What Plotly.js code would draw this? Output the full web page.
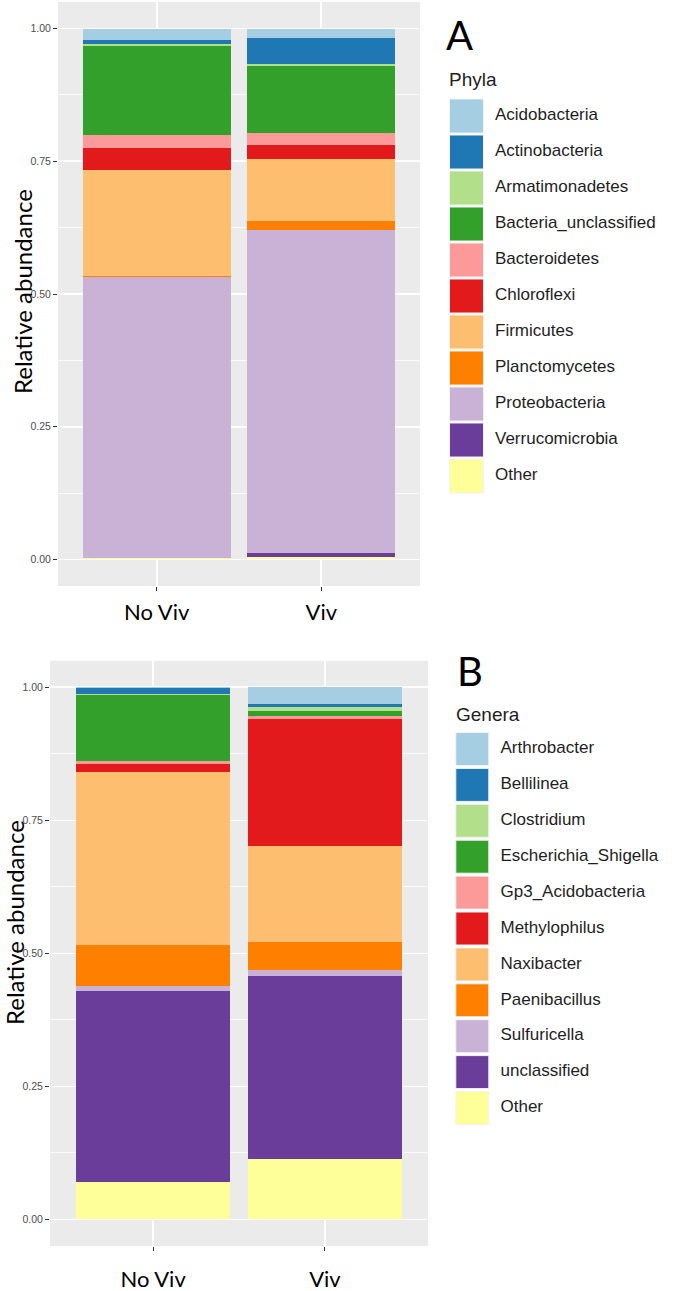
<!DOCTYPE html>
<html>
<head>
<meta charset="utf-8">
<script src="https://cdn.plot.ly/plotly-3.0.1.min.js"></script>
<style>html,body{margin:0;padding:0;background:#fff;}#chart{width:685px;height:1291px;}</style>
</head>
<body>
<div id="chart"></div>
<script>
// ---------- DATA ----------
const samples = ["No Viv", "Viv"];

const phyla = ["Acidobacteria", "Actinobacteria", "Armatimonadetes", "Bacteria_unclassified",
  "Bacteroidetes", "Chloroflexi", "Firmicutes", "Planctomycetes", "Proteobacteria",
  "Verrucomicrobia", "Other"];
const phylaNoViv = [0.021, 0.008, 0.003, 0.169, 0.024, 0.041, 0.201, 0.001, 0.529, 0.000, 0.003];
const phylaViv   = [0.018, 0.049, 0.004, 0.125, 0.023, 0.027, 0.116, 0.017, 0.608, 0.008, 0.005];

const genera = ["Arthrobacter", "Bellilinea", "Clostridium", "Escherichia_Shigella",
  "Gp3_Acidobacteria", "Methylophilus", "Naxibacter", "Paenibacillus", "Sulfuricella",
  "unclassified", "Other"];
const generaNoViv = [0.002, 0.011, 0.002, 0.124, 0.006, 0.015, 0.324, 0.078, 0.008, 0.359, 0.071];
const generaViv   = [0.031, 0.006, 0.008, 0.009, 0.006, 0.239, 0.179, 0.053, 0.012, 0.344, 0.113];

const palette = ["#A6CEE3", "#1F78B4", "#B2DF8A", "#33A02C", "#FB9A99", "#E31A1C",
  "#FDBF6F", "#FF7F00", "#CAB2D6", "#6A3D9A", "#FFFF99"];

const yTicks = [0, 0.25, 0.5, 0.75, 1.0];

// ---------- LAYOUT HELPERS ----------
const W = 685, H = 1291;
const px = v => v / W;             // x pixel -> paper
const py = v => (H - v) / H;       // y pixel (from top) -> paper

const traces = [];
function addStack(names, a, b, xa, ya) {
  // ggplot stacks the first level on top -> add in reverse order
  for (let i = names.length - 1; i >= 0; i--) {
    traces.push({
      type: "bar", x: samples, y: [a[i], b[i]], name: names[i],
      marker: {color: palette[i], line: {width: 0}},
      width: 0.9, xaxis: xa, yaxis: ya, showlegend: false, hoverinfo: "name+y"
    });
  }
}
addStack(phyla, phylaNoViv, phylaViv, "x", "y");
addStack(genera, generaNoViv, generaViv, "x2", "y2");

// legend swatches and labels (built from category arrays)
function addLegend(names, xa, ya, swX, txtX, sw) {
  const idx = names.map((_, i) => i);
  traces.push({
    type: "scatter", mode: "markers", x: idx.map(() => swX), y: idx,
    marker: {symbol: "square", size: sw, color: palette, line: {color: "#f2f2f2", width: 1}},
    xaxis: xa, yaxis: ya, showlegend: false, hoverinfo: "skip", cliponaxis: false
  });
  traces.push({
    type: "scatter", mode: "text", x: idx.map(() => txtX), y: idx, text: names,
    textposition: "middle right",
    textfont: {family: "Liberation Sans, Arial, sans-serif", size: 17, color: "#1e1e1e"},
    xaxis: xa, yaxis: ya, showlegend: false, hoverinfo: "skip", cliponaxis: false
  });
}
addLegend(phyla, "x3", "y3", 466.5, 495, 34);
addLegend(genera, "x4", "y4", 472.3, 500.5, 33);

const tickFont = {family: "Liberation Sans Narrow, Liberation Sans, Arial, sans-serif", size: 10.5, color: "#4D4D4D"};
const catFont = {family: "Lato, Open Sans, sans-serif", size: 22, color: "#000"};

function yAxis(domain, anchor) {
  return {
    domain: domain, anchor: anchor, range: [-0.05, 1.05], tickvals: yTicks, tickformat: ".2f",
    showgrid: true, gridcolor: "#FFFFFF", gridwidth: 1.6, zeroline: false,
    ticks: "outside", ticklen: 4, tickcolor: "#333333", tickwidth: 1, tickfont: tickFont,
    minor: {tickvals: [0.125, 0.375, 0.625, 0.875], showgrid: true, gridcolor: "#FFFFFF", gridwidth: 0.8, ticks: ""},
    showline: false, fixedrange: true
  };
}
function xAxis(domain, anchor, standoff) {
  return {
    domain: domain, anchor: anchor, type: "category", range: [-0.6, 1.6],
    showgrid: true, gridcolor: "#FFFFFF", gridwidth: 1.6, zeroline: false,
    ticks: "outside", ticklen: 4, tickcolor: "#333333", tickwidth: 1,
    tickfont: catFont, ticklabelstandoff: standoff, showline: false, fixedrange: true
  };
}
function hiddenAxis(domain, anchor, range) {
  return {domain: domain, anchor: anchor, range: range, visible: false, showgrid: false,
    zeroline: false, fixedrange: true};
}

const rowA = 36, topA = 116 - rowA / 2;
const rowB = 35.9, topB = 749 - rowB / 2;

const panelBg = (xr, yr) => ({type: "rect", xref: xr + " domain", yref: yr + " domain",
  x0: 0, x1: 1, y0: 0, y1: 1, fillcolor: "#EBEBEB", line: {width: 0}, layer: "below"});

const layout = {
  width: W, height: H,
  margin: {l: 0, r: 0, t: 0, b: 0, pad: 0},
  paper_bgcolor: "#FFFFFF",
  plot_bgcolor: "rgba(0,0,0,0)",
  barmode: "stack",
  showlegend: false,
  xaxis: xAxis([px(58), px(420)], "y", 3),
  yaxis: yAxis([py(586), py(2)], "x"),
  xaxis2: xAxis([px(50), px(428)], "y2", 10),
  yaxis2: yAxis([py(1246), py(660.7)], "x2"),
  xaxis3: hiddenAxis([px(440), 1], "y3", [440, 685]),
  yaxis3: hiddenAxis([py(topA + 11 * rowA), py(topA)], "x3", [10.5, -0.5]),
  xaxis4: hiddenAxis([px(440), 1], "y4", [440, 685]),
  yaxis4: hiddenAxis([py(topB + 11 * rowB), py(topB)], "x4", [10.5, -0.5]),
  shapes: [panelBg("x", "y"), panelBg("x2", "y2")],
  annotations: [
    {text: "Relative abundance", textangle: -90, xref: "paper", yref: "paper",
     x: px(23), y: py(292), xanchor: "center", yanchor: "middle", showarrow: false,
     font: {family: "Lato, Open Sans, sans-serif", size: 24, color: "#000"}},
    {text: "Relative abundance", textangle: -90, xref: "paper", yref: "paper",
     x: px(15), y: py(923), xanchor: "center", yanchor: "middle", showarrow: false,
     font: {family: "Lato, Open Sans, sans-serif", size: 24, color: "#000"}},
    {text: "A", xref: "paper", yref: "paper", x: px(460), y: py(35), xanchor: "center", yanchor: "middle",
     showarrow: false, font: {family: "Lato, Open Sans, sans-serif", size: 40, color: "#000"}},
    {text: "B", xref: "paper", yref: "paper", x: px(470), y: py(671), xanchor: "center", yanchor: "middle",
     showarrow: false, font: {family: "Lato, Open Sans, sans-serif", size: 40, color: "#000"}},
    {text: "Phyla", xref: "paper", yref: "paper", x: px(447), y: py(80), xanchor: "left", yanchor: "middle",
     showarrow: false, font: {family: "Liberation Sans, Arial, sans-serif", size: 19, color: "#1e1e1e"}},
    {text: "Genera", xref: "paper", yref: "paper", x: px(454), y: py(714), xanchor: "left", yanchor: "middle",
     showarrow: false, font: {family: "Liberation Sans, Arial, sans-serif", size: 19, color: "#1e1e1e"}}
  ]
};

Plotly.newPlot("chart", traces, layout, {staticPlot: true, displayModeBar: false});
</script>
</body>
</html>
